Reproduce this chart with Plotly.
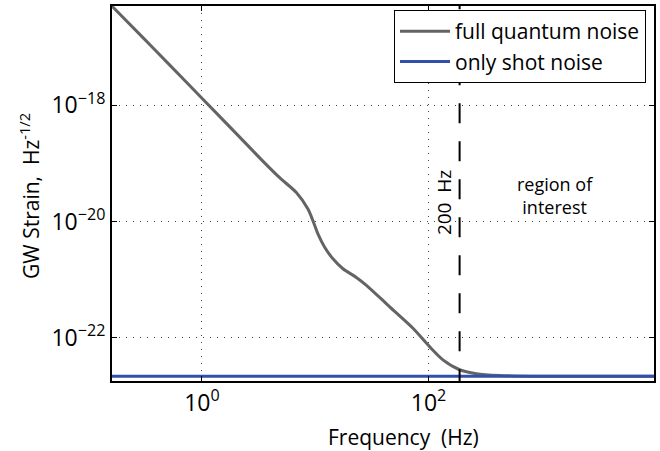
import numpy as np
import plotly.graph_objects as go

# Data
freq_full = [0.16, 0.3, 0.5, 1.0, 2.0, 3.5, 4.85, 6.81, 8.62, 9.54, 10.56, 12.11, 14.33,
             17.56, 23.05, 28.3, 45.4, 72.9, 102, 134, 188, 264, 424, 1000, 10000]
strain_full = [5.13e-17, 1.48e-17, 5.33e-18, 1.33e-18, 3.31e-19, 1.07e-19, 5.71e-20,
               3.17e-20, 1.65e-20, 1.04e-20, 6.17e-21, 3.64e-21, 2.30e-21, 1.55e-21,
               1.10e-21, 8.05e-22, 3.43e-22, 1.47e-22, 7.10e-23, 4.21e-23, 2.84e-23,
               2.43e-23, 2.26e-23, 2.19e-23, 2.19e-23]
freq_shot = [0.16, 10000]
strain_shot = [2.19e-23, 2.19e-23]
marker_freq = 188  # "200 Hz" dashed marker position as drawn
series_names = ["full quantum noise", "only shot noise"]
x_tickvals = [1, 100]
x_ticktext = ["10<sup>0</sup>", "10<sup>2</sup>"]
y_tickvals = [1e-18, 1e-20, 1e-22]
y_ticktext = ["10<sup>\u221218</sup>", "10<sup>\u221220</sup>", "10<sup>\u221222</sup>"]

FONT = "Open Sans"
NB = "\u00a0"
L, R, T, B = 112, 6, 4, 70
W, H = 660, 451
pw, ph = W - L - R, H - T - B

fig = go.Figure()
fig.add_trace(go.Scatter(x=freq_full, y=strain_full, mode="lines", name=series_names[0],
                         line=dict(color="rgb(100,100,100)", width=3, shape="spline", smoothing=0.8)))
fig.add_trace(go.Scatter(x=freq_shot, y=strain_shot, mode="lines", name=series_names[1],
                         line=dict(color="rgb(50,80,170)", width=3)))
fig.add_trace(go.Scatter(x=[marker_freq, marker_freq], y=[1e-16, 1e-23], mode="lines",
                         showlegend=False, hoverinfo="skip",
                         line=dict(color="black", width=2, dash="20px,18px")))

axis_common = dict(type="log", tickmode="array", showgrid=True, gridcolor="#444", gridwidth=1,
                   griddash="1px,6px", showline=True, linecolor="black", linewidth=2,
                   mirror="ticks", ticks="inside", ticklen=5, tickwidth=1, tickcolor="black",
                   zeroline=False, tickfont=dict(family=FONT, size=23, color="black"))
fig.update_xaxes(range=[-0.794, 3.99], tickvals=x_tickvals, ticktext=x_ticktext, **axis_common)
fig.update_yaxes(range=[-22.74, -16.29], tickvals=y_tickvals, ticktext=y_ticktext, **axis_common)

fig.add_annotation(x=np.log10(135), y=-19.675, xref="x", yref="y", text="200" + NB + NB + "Hz",
                   textangle=-90, showarrow=False, xanchor="center", yanchor="middle",
                   font=dict(family=FONT, size=19, color="black"))
fig.add_annotation(x=3.113, y=-19.556, xref="x", yref="y", text="region of<br>interest",
                   showarrow=False, xanchor="center", yanchor="middle",
                   font=dict(family=FONT, size=18, color="black"))
fig.add_annotation(x=(403.5 - L) / pw, y=(H - B - 437) / ph, xref="paper", yref="paper",
                   text="Frequency" + NB + NB + "(Hz)", showarrow=False,
                   xanchor="center", yanchor="middle",
                   font=dict(family=FONT, size=21, color="black"))
fig.add_annotation(x=(30 - L) / pw, y=(H - B - 195) / ph, xref="paper", yref="paper",
                   text="GW Strain," + NB + NB + "Hz<sup>-1/2</sup>", textangle=-90, showarrow=False,
                   xanchor="center", yanchor="middle",
                   font=dict(family=FONT, size=21, color="black"))

fig.update_layout(
    width=W, height=H, margin=dict(l=L, r=R, t=T, b=B),
    plot_bgcolor="white", paper_bgcolor="white",
    legend=dict(x=1 - 8 / pw, y=1 - 4 / ph, xanchor="right", yanchor="top",
                bgcolor="white", bordercolor="black", borderwidth=1, itemwidth=50,
                font=dict(family=FONT, size=21, color="black"), tracegroupgap=0),
    showlegend=True,
)

fig.write_html("out.html")
